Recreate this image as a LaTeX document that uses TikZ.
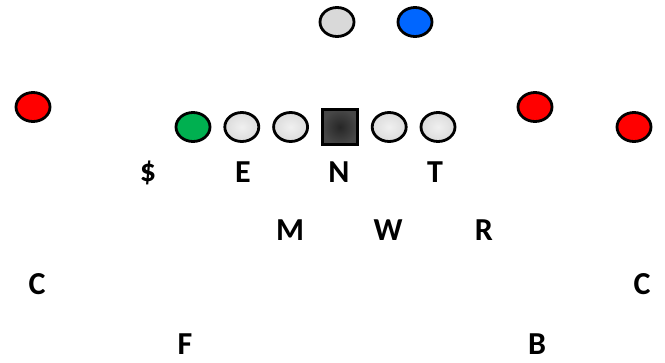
\documentclass[tikz,border=0pt]{standalone}
\usepackage{fontspec}
\setmainfont{Carlito}
\usepackage{tikz}
\usetikzlibrary{positioning, shapes.geometric}
\definecolor{offred}{HTML}{FF0000}
\definecolor{offblue}{HTML}{0066FF}
\definecolor{offgreen}{HTML}{00B050}
\definecolor{lightgr}{HTML}{D9D9D9}
\tikzset{
    player/.style = {ellipse, draw = black, line width = 2.8pt, minimum width = 34pt, minimum height = 29pt, inner sep = 0pt},
    lineman/.style = {player, inner color = gray!12, outer color = gray!28},
    snapper/.style = {rectangle, draw = black, line width = 2.8pt, minimum size = 35pt, inner sep = 0pt, inner color = black!85, outer color = black!72},
    defender/.style = {font = \fontsize{32}{32}\selectfont\bfseries, inner sep = 0pt}
}
\begin{document}
\begin{tikzpicture}[x = 1pt, y = -1pt]
        \useasboundingbox (0,0) rectangle (665,362);
        % backfield
        \node [player, fill = lightgr] (qb) at (337,22) {};
        \node [player, fill = offblue] (rb) at (415,22) {};
        % line
        \node [player, fill = offgreen] (te) at (193,127) {};
        \node [lineman, right = 12pt of te] (lt) {};
        \node [lineman, right = 12pt of lt] (lg) {};
        \node [snapper, right = 12pt of lg] (c) {};
        \node [lineman, right = 12pt of c] (rg) {};
        \node [lineman, right = 12pt of rg] (rt) {};
        % receivers
        \node [player, fill = offred] (x) at (33,107) {};
        \node [player, fill = offred] (h) at (535,107) {};
        \node [player, fill = offred] (z) at (634,127) {};
        % defense
        \node [defender] (d1) at (148,173) {\$};
        \node [defender] (d2) at (243,172) {E};
        \node [defender] (d3) at (339,172) {N};
        \node [defender] (d4) at (435,172) {T};
        \node [defender] (d5) at (290,230) {M};
        \node [defender] (d6) at (388,230) {W};
        \node [defender] (d7) at (484,230) {R};
        \node [defender] (d8) at (37,284) {C};
        \node [defender] (d9) at (642,284) {C};
        \node [defender] (d10) at (185,344) {F};
        \node [defender] (d11) at (537,344) {B};
    \end{tikzpicture}
\end{document}
